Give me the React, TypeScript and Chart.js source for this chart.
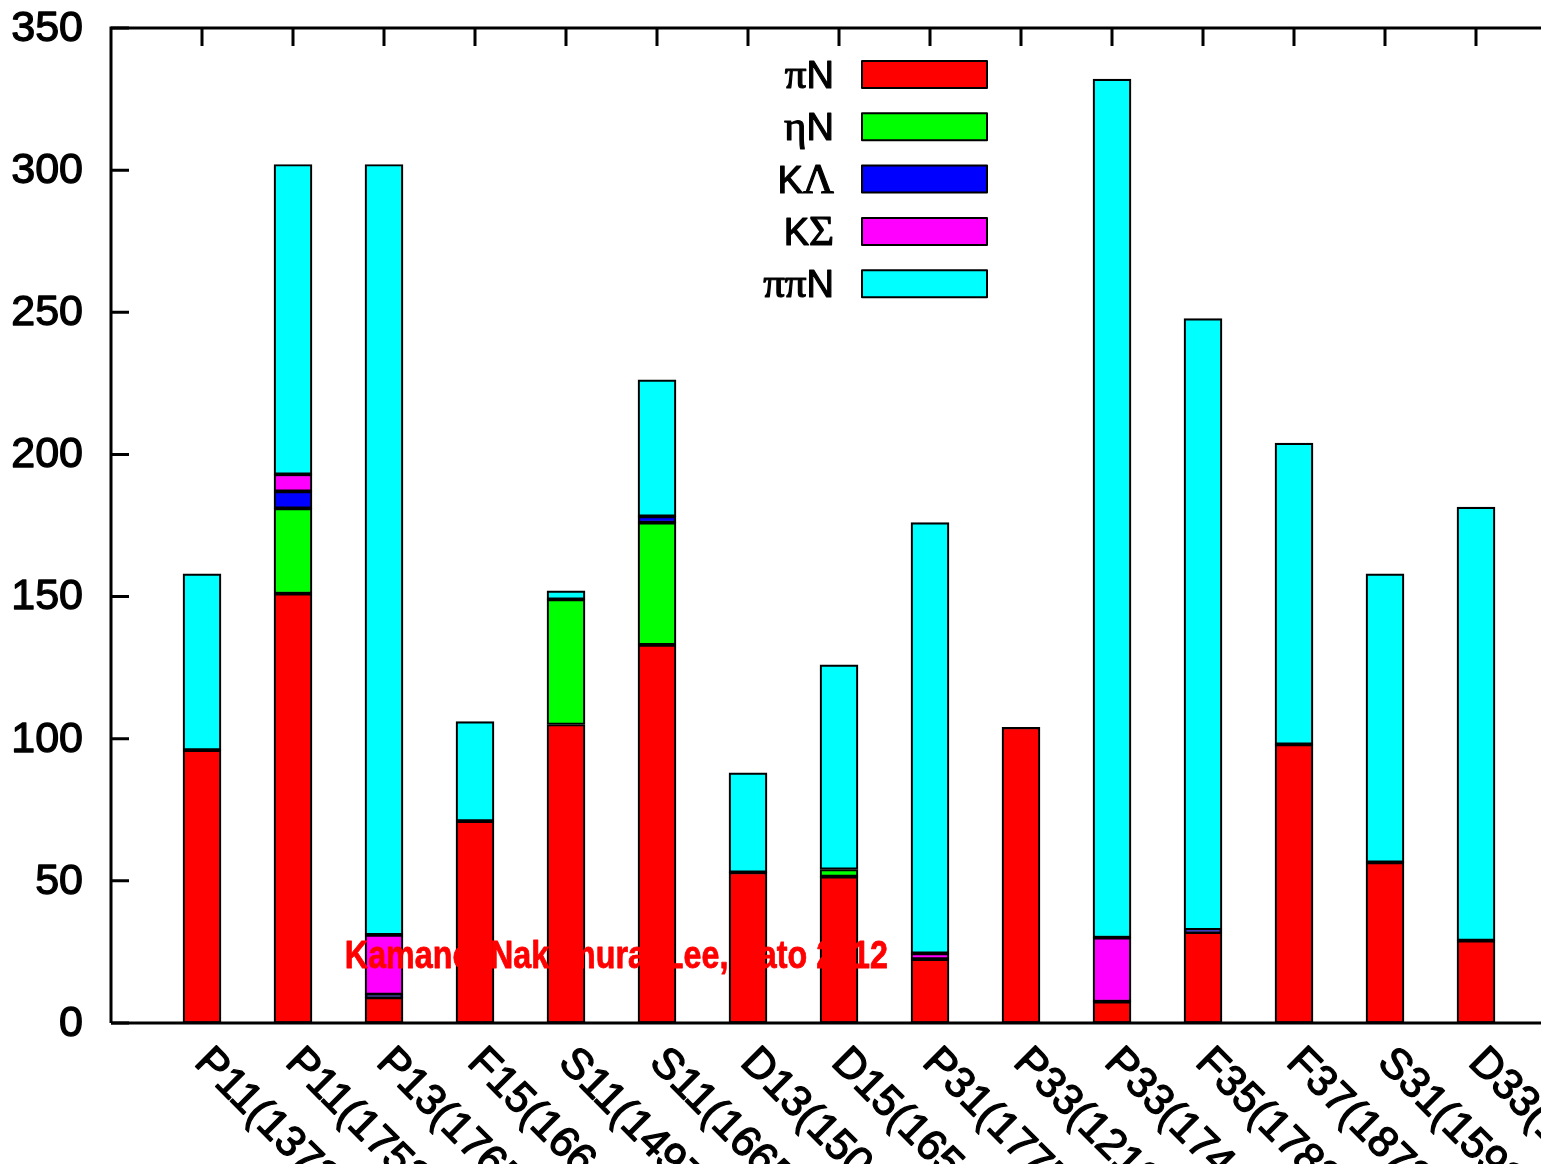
import React, { useEffect, useRef } from "react";
import { Chart, registerables } from "chart.js";

Chart.register(...registerables);

const categories = [
  "P11(1372)", "P11(1752)", "P13(1765)", "F15(1664)", "S11(1497)",
  "S11(1665)", "D13(1506)", "D15(1658)", "P31(1775)", "P33(1213)",
  "P33(1744)", "F35(1783)", "F37(1873)", "S31(1592)", "D33(1728)",
];
const seriesLabels = ["πN", "ηN", "KΛ", "KΣ", "ππN"];
const seriesColors = ["#ff0000", "#00ff00", "#0000ff", "#ff00ff", "#00ffff"];
const piN = [96, 151, 9, 71, 105, 133, 53, 51.5, 22.5, 104, 7.5, 32, 98, 56.5, 29];
const etaN = [0, 30, 0, 0, 44, 43, 0, 2.5, 0, 0, 0, 0, 0, 0, 0];
const kLambda = [0, 6, 1, 0, 0, 2.2, 0, 0, 0, 0, 0, 0.8, 0, 0, 0];
const kSigma = [0, 6, 21, 0, 0, 0, 0, 0, 2, 0, 22.5, 0, 0, 0, 0];
const pipiN = [62, 109, 271, 35, 3, 48, 35, 72, 151.5, 0, 302, 215, 106, 101.5, 152.5];
const yTicks = [0, 50, 100, 150, 200, 250, 300, 350];
const annotationText = "Kamano, Nakamura, Lee, Sato 2012";
const annotationX = 2.57;
const annotationY = 19.3;

const allSeries = [piN, etaN, kLambda, kSigma, pipiN];

const isGreek = (ch: string) => /[\u0370-\u03ff]/.test(ch);

function heavyText(ctx: CanvasRenderingContext2D, t: string, x: number, y: number, lw: number) {
  ctx.fillText(t, x, y);
  if (lw > 0) {
    ctx.lineWidth = lw;
    ctx.lineJoin = "round";
    ctx.strokeText(t, x, y);
  }
}

function drawMixed(ctx: CanvasRenderingContext2D, text: string, rightX: number, y: number) {
  const runs: { t: string; g: boolean }[] = [];
  for (const ch of text) {
    const g = isGreek(ch);
    if (runs.length && runs[runs.length - 1].g === g) runs[runs.length - 1].t += ch;
    else runs.push({ t: ch, g });
  }
  const fontFor = (g: boolean) => (g ? "43px 'Liberation Serif', serif" : "38px 'Liberation Sans', Arial, sans-serif");
  let total = 0;
  const widths = runs.map((r) => {
    ctx.font = fontFor(r.g);
    const w = ctx.measureText(r.t).width;
    total += w;
    return w;
  });
  let x = rightX - total;
  ctx.textAlign = "left";
  ctx.textBaseline = "alphabetic";
  runs.forEach((r, i) => {
    ctx.font = fontFor(r.g);
    heavyText(ctx, r.t, x, y, 1.2);
    x += widths[i];
  });
}

const customPlugin = {
  id: "customDraw",
  afterDatasetsDraw(chart: any) {
    const ctx: CanvasRenderingContext2D = chart.ctx;
    const xs = chart.scales.x;
    const ys = chart.scales.y;
    const area = chart.chartArea;
    ctx.save();

    // annotation text
    ctx.fillStyle = "#ff0000";
    ctx.strokeStyle = "#ff0000";
    ctx.font = "bold 38px 'Liberation Sans Narrow', 'Liberation Sans', Arial, sans-serif";
    ctx.textAlign = "left";
    ctx.textBaseline = "alphabetic";
    const ax = xs.getPixelForValue(annotationX);
    const ay = ys.getPixelForValue(annotationY);
    const w = ctx.measureText(annotationText).width;
    ctx.save();
    ctx.translate(ax, ay);
    ctx.scale(543 / w, 1);
    heavyText(ctx, annotationText, 0, 0, 0.8);
    ctx.restore();

    // frame
    ctx.strokeStyle = "#000";
    ctx.lineWidth = 3;
    ctx.beginPath();
    ctx.moveTo(area.left, area.bottom);
    ctx.lineTo(area.left, area.top);
    ctx.lineTo(area.right + 5, area.top);
    ctx.moveTo(area.left, area.bottom);
    ctx.lineTo(area.right + 5, area.bottom);
    ctx.stroke();

    // y ticks (inside)
    ctx.beginPath();
    yTicks.forEach((v) => {
      const py = ys.getPixelForValue(v);
      ctx.moveTo(area.left, py);
      ctx.lineTo(area.left + 18, py);
    });
    // top ticks at categories
    categories.forEach((_, i) => {
      const px = xs.getPixelForValue(i + 1);
      ctx.moveTo(px, area.top);
      ctx.lineTo(px, area.top + 18);
    });
    ctx.stroke();

    // y labels
    ctx.fillStyle = "#000";
    ctx.strokeStyle = "#000";
    ctx.font = "43px 'Liberation Sans', Arial, sans-serif";
    ctx.textAlign = "right";
    ctx.textBaseline = "middle";
    yTicks.forEach((v) => {
      const py = ys.getPixelForValue(v);
      heavyText(ctx, String(v), area.left - 28, py + 1, 1.3);
    });

    // x labels rotated
    ctx.textAlign = "left";
    ctx.textBaseline = "alphabetic";
    categories.forEach((lab, i) => {
      const px = xs.getPixelForValue(i + 1);
      ctx.save();
      ctx.translate(px - 9, area.bottom + 41);
      ctx.rotate(Math.PI / 4);
      heavyText(ctx, lab, 0, 0, 1.3);
      ctx.restore();
    });

    // legend
    chart.data.datasets.forEach((ds: any, i: number) => {
      const top = 61 + 52.3 * i;
      ctx.fillStyle = ds.backgroundColor;
      ctx.fillRect(862, top, 125, 27);
      ctx.strokeStyle = "#000";
      ctx.lineWidth = 2;
      ctx.strokeRect(862, top, 125, 27);
      ctx.fillStyle = "#000";
      drawMixed(ctx, ds.label, 834, top + 27);
    });

    ctx.restore();
  },
};

export default function App() {
  const canvasRef = useRef<HTMLCanvasElement | null>(null);

  useEffect(() => {
    const canvas = canvasRef.current;
    if (!canvas) return;
    const datasets = allSeries.map((arr, si) => ({
      label: seriesLabels[si],
      data: arr.map((v, i) => ({ x: i + 1, y: v })),
      backgroundColor: seriesColors[si],
      borderColor: "#000000",
      borderWidth: 2.2,
      borderSkipped: false,
      barThickness: 38,
    }));
    const chart = new Chart(canvas, {
      type: "bar",
      data: { datasets: datasets as any },
      options: {
        animation: false,
        responsive: false,
        maintainAspectRatio: false,
        layout: { padding: { top: 28, bottom: 141, left: 0, right: 0 } },
        plugins: { legend: { display: false }, tooltip: { enabled: false } },
        scales: {
          x: {
            type: "linear",
            stacked: true,
            offset: false,
            min: 0,
            max: 1430 / 91,
            display: false,
          },
          y: {
            stacked: true,
            min: 0,
            max: 350,
            afterFit: (scale: any) => {
              scale.width = 111;
            },
            ticks: { display: false },
            grid: { display: false, drawTicks: false },
            border: { display: false },
          },
        },
      },
      plugins: [customPlugin],
    });
    return () => chart.destroy();
  }, []);

  return (
    <div style={{ position: "fixed", left: 0, top: 0, width: 1541, height: 1164, background: "#fff", overflow: "hidden" }}>
      <canvas ref={canvasRef} width={1541} height={1164} style={{ display: "block", width: 1541, height: 1164 }} />
    </div>
  );
}
